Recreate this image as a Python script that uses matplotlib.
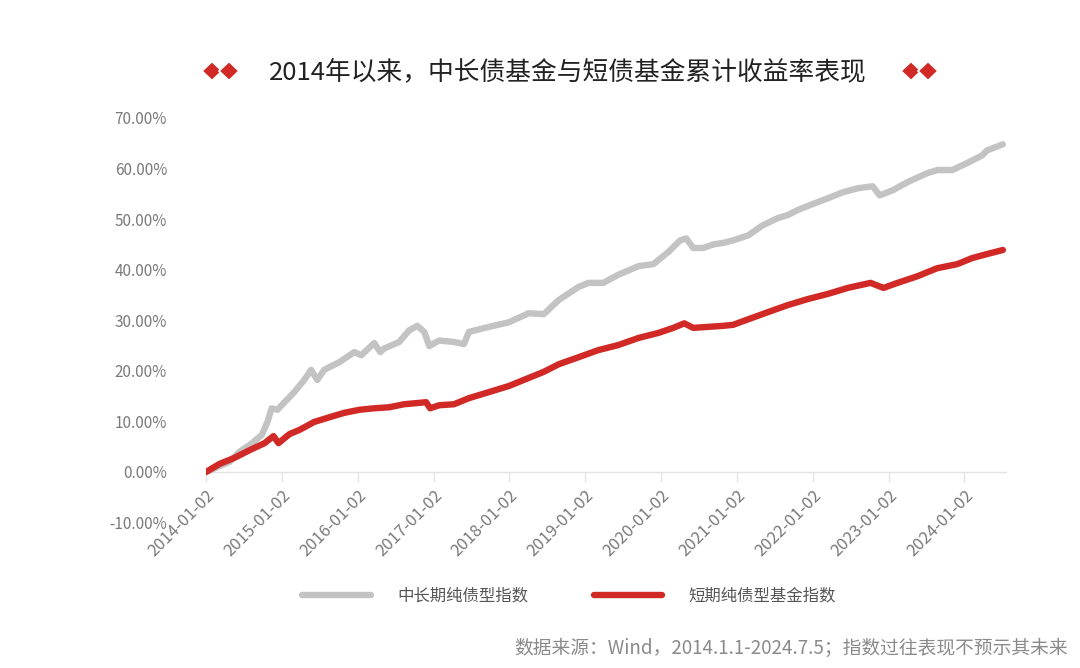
import matplotlib
matplotlib.use("Agg")
import matplotlib.pyplot as plt
from matplotlib.patches import Polygon
import pandas as pd

plt.rcParams['font.family'] = ['Noto Sans CJK SC', 'DejaVu Sans']

title = "2014年以来，中长债基金与短债基金累计收益率表现"
source = "数据来源：Wind，2014.1.1-2024.7.5；指数过往表现不预示其未来"
series_names = ["中长期纯债型指数", "短期纯债型基金指数"]
tick_dates = ["2014-01-02", "2015-01-02", "2016-01-02", "2017-01-02", "2018-01-02",
              "2019-01-02", "2020-01-02", "2021-01-02", "2022-01-02", "2023-01-02",
              "2024-01-02"]
y_ticks = [-10, 0, 10, 20, 30, 40, 50, 60, 70]

long_dates = ["2014-01-02", "2014-04-25", "2014-06-13", "2014-07-30", "2014-09-27",
              "2014-10-25", "2014-11-14", "2014-12-12", "2015-01-15", "2015-03-03",
              "2015-04-20", "2015-05-23", "2015-06-22", "2015-07-25", "2015-10-05",
              "2015-12-17", "2016-01-20", "2016-03-22", "2016-04-20", "2016-05-08",
              "2016-07-20", "2016-09-06", "2016-10-15", "2016-11-18", "2016-12-12",
              "2017-01-29", "2017-04-10", "2017-05-28", "2017-06-21", "2017-09-25",
              "2017-12-30", "2018-04-05", "2018-06-16", "2018-08-27", "2018-12-01",
              "2019-01-18", "2019-03-30", "2019-06-10", "2019-09-15", "2019-11-26",
              "2020-02-06", "2020-04-03", "2020-05-02", "2020-06-05", "2020-07-23",
              "2020-09-09", "2020-10-27", "2020-12-14", "2021-02-25", "2021-05-06",
              "2021-07-17", "2021-09-03", "2021-10-21", "2022-01-02", "2022-03-14",
              "2022-05-25", "2022-08-05", "2022-10-17", "2022-11-20", "2023-01-21",
              "2023-04-02", "2023-07-07", "2023-08-24", "2023-11-04", "2024-01-15",
              "2024-03-27", "2024-04-20", "2024-07-05"]
long_vals = [0.0, 2.0, 4.0, 5.3, 7.3,
             9.9, 12.6, 12.3, 13.8, 15.8,
             18.2, 20.2, 18.2, 20.2, 21.7,
             23.7, 23.1, 25.5, 23.7, 24.4,
             25.7, 28.0, 28.9, 27.7, 24.9,
             26.0, 25.7, 25.3, 27.7, 28.7,
             29.6, 31.4, 31.2, 34.0, 36.6,
             37.4, 37.4, 39.0, 40.7, 41.1,
             43.5, 45.8, 46.2, 44.3, 44.3,
             45.0, 45.3, 45.8, 46.8, 48.8,
             50.2, 50.8, 51.8, 53.0, 54.1,
             55.3, 56.1, 56.5, 54.7, 55.7,
             57.3, 59.1, 59.7, 59.7, 61.1,
             62.6, 63.6, 64.8]

short_dates = ["2014-01-02", "2014-03-08", "2014-05-19", "2014-07-30", "2014-10-11",
               "2014-11-23", "2014-12-17", "2015-02-08", "2015-03-27", "2015-06-07",
               "2015-09-02", "2015-10-30", "2016-01-10", "2016-03-22", "2016-06-02",
               "2016-08-13", "2016-11-27", "2016-12-16", "2017-01-29", "2017-04-10",
               "2017-06-21", "2017-09-25", "2017-12-30", "2018-04-05", "2018-06-16",
               "2018-08-27", "2018-12-01", "2019-03-06", "2019-06-10", "2019-09-15",
               "2019-12-20", "2020-03-01", "2020-04-23", "2020-06-05", "2020-08-16",
               "2020-10-27", "2020-12-14", "2021-02-25", "2021-05-30", "2021-09-03",
               "2021-12-09", "2022-03-14", "2022-06-19", "2022-10-07", "2022-12-08",
               "2023-02-14", "2023-05-20", "2023-08-24", "2023-11-28", "2024-02-08",
               "2024-04-20", "2024-07-05"]
short_vals = [0.0, 1.6, 2.8, 4.3, 5.7,
              7.1, 5.7, 7.5, 8.3, 9.9,
              11.0, 11.7, 12.3, 12.6, 12.8,
              13.4, 13.8, 12.6, 13.2, 13.4,
              14.6, 15.8, 17.0, 18.6, 19.8,
              21.3, 22.7, 24.1, 25.1, 26.5,
              27.5, 28.5, 29.4, 28.5, 28.7,
              28.9, 29.1, 30.2, 31.6, 33.0,
              34.2, 35.2, 36.4, 37.4, 36.4,
              37.4, 38.7, 40.3, 41.1, 42.3,
              43.1, 43.9]

W, H = 1080, 668
fig = plt.figure(figsize=(W / 100, H / 100), dpi=100)
fig.patch.set_facecolor("white")

ax_left, ax_right = 206, 1006
y0_px, y70_px = 472, 118
px_per_unit = (y0_px - y70_px) / 70.0
ax_bottom_px = y0_px + 10 * px_per_unit
ax = fig.add_axes([ax_left / W, 1 - ax_bottom_px / H,
                   (ax_right - ax_left) / W, (ax_bottom_px - y70_px) / H])

gray = "#c3c3c3"
red = "#d12a26"
ld = pd.to_datetime(long_dates)
sd = pd.to_datetime(short_dates)
l1, = ax.plot(ld, long_vals, color=gray, lw=4.6, solid_joinstyle="round",
              solid_capstyle="round", label=series_names[0], zorder=2)
l2, = ax.plot(sd, short_vals, color=red, lw=4.6, solid_joinstyle="round",
              solid_capstyle="round", label=series_names[1], zorder=3)

ax.set_xlim(pd.Timestamp("2014-01-02"), pd.Timestamp("2024-07-20"))
ax.set_ylim(-10, 70)
for s in ["top", "right", "left"]:
    ax.spines[s].set_visible(False)
ax.spines["bottom"].set_position(("data", 0))
ax.spines["bottom"].set_color("#e3e3e3")
ax.spines["bottom"].set_linewidth(1.0)
ax.spines["bottom"].set_zorder(1)

ax.set_xticks(pd.to_datetime(tick_dates))
ax.set_xticklabels(tick_dates, rotation=45, ha="right", rotation_mode="anchor",
                   fontsize=12, color="#7a7a7a")
ax.tick_params(axis="x", length=7, width=1, color="#e3e3e3", pad=4)
ax.set_yticks(y_ticks)
ax.set_yticklabels([f"{v:.2f}%" for v in y_ticks], fontsize=11, color="#7a7a7a")
ax.tick_params(axis="y", length=0, pad=28)

fig.text(568 / W, 1 - 72 / H, title, ha="center", va="center",
         fontsize=18.5, color="#222222")


def diamond_pair(cx, cy):
    for dx in (0, 17):
        x = cx + dx
        w, h = 10, 9.5
        pts = [((x) / W, 1 - (cy - h) / H), ((x + w) / W, 1 - cy / H),
               ((x) / W, 1 - (cy + h) / H), ((x - w) / W, 1 - cy / H)]
        fig.patches.append(Polygon(pts, closed=True, transform=fig.transFigure,
                                   facecolor=red, edgecolor="white", lw=1.2,
                                   figure=fig))


diamond_pair(212, 71)
diamond_pair(911, 71)

leg = fig.legend(handles=[l1, l2], loc="center", bbox_to_anchor=(569 / W, 1 - 596 / H),
                 ncol=2, frameon=False, fontsize=11.8, handlelength=4.2,
                 handletextpad=1.6, columnspacing=4.0)
for t in leg.get_texts():
    t.set_color("#555555")

fig.text(1068 / W, 1 - 648 / H, source, ha="right", va="center",
         fontsize=13.5, color="#8a8a8a")

fig.savefig("out.png", dpi=100)
